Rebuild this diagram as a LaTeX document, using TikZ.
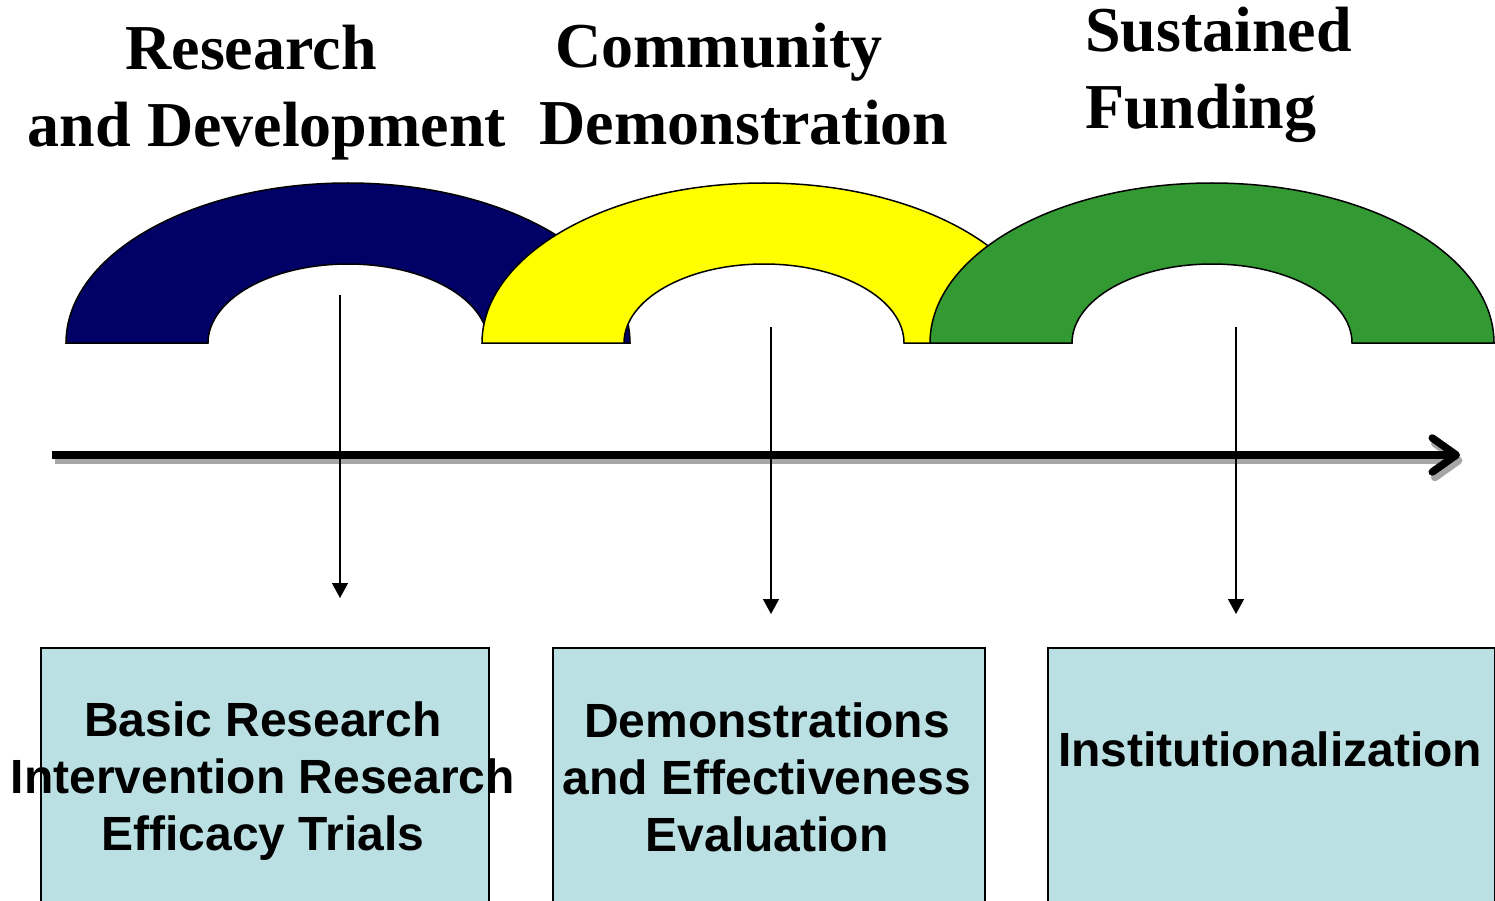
\documentclass[tikz,border=0pt]{standalone}
\usepackage{fontspec}
\setmainfont{Liberation Serif}
\newfontfamily\boxfont{Liberation Sans}
\usetikzlibrary{arrows.meta}
\definecolor{archnavy}{HTML}{000066}
\definecolor{archyellow}{HTML}{FFFF00}
\definecolor{archgreen}{HTML}{339933}
\definecolor{boxfill}{HTML}{BBE0E3}
\definecolor{shadowgrey}{HTML}{A6A6A6}
\tikzset{
  arch/.style={draw=black, line width=1.5pt},
  heading/.style={font=\fontsize{64}{77}\selectfont\bfseries, align=center, inner sep=0pt},
  stagebox/.style={draw=black, line width=1.8pt, fill=boxfill, anchor=north west, inner sep=0pt},
  boxtext/.style={font=\boxfont\fontsize{48}{57}\selectfont\bfseries, align=center, inner sep=0pt},
  droparrow/.style={line width=1.4pt, -{Triangle[length=15pt,width=16pt]}},
  timeline/.style={line width=7.5pt, -{Straight Barb[length=24pt,width=34pt,round]}}
}
\newcommand{\archshape}[2]{%
  \fill[#2] (#1-282,-343) arc[start angle=180,end angle=0,x radius=282,y radius=160]
    -- (#1+140,-343) arc[start angle=0,end angle=180,x radius=140,y radius=79] -- cycle;
  \draw[arch] (#1-282,-343) arc[start angle=180,end angle=0,x radius=282,y radius=160]
    -- (#1+140,-343) arc[start angle=0,end angle=180,x radius=140,y radius=79] -- cycle;
}
\begin{document}
\begin{tikzpicture}[x=1pt,y=1pt]
\useasboundingbox (0,0) rectangle (1495,-901);
\fill[white] (0,0) rectangle (1495,-901);

% headings
\node[heading] (h1) at (267,-93) {Research\hspace*{32pt}\\and Development};
\node[heading] (h2) at (744,-84) {Community\hspace*{50pt}\\Demonstration};
\node[heading, align=left, anchor=west] (h3) at (1085,-75) {Sustained\\Funding};

% arches
\archshape{348}{archnavy}
\archshape{764}{archyellow}
\archshape{1212}{archgreen}

% timeline with shadow
\coordinate (tlstart) at (52,-455);
\coordinate (tlend) at (1460,-455);
\draw[timeline, shadowgrey, transform canvas={shift={(2.5pt,-5.5pt)}}] (tlstart) -- (tlend);
\draw[timeline, black] (tlstart) -- (tlend);

% boxes
\node[stagebox, minimum width=448pt, minimum height=270pt] (b1) at (40,-647) {};
\node[stagebox, minimum width=432pt, minimum height=270pt] (b2) at (552,-647) {};
\node[stagebox, minimum width=447pt, minimum height=270pt] (b3) at (1047,-647) {};

\node[boxtext] (t1) at (263,-781) {Basic Research\\Intervention Research\\Efficacy Trials};
\node[boxtext] (t2) at (767,-777) {Demonstrations\\and Effectiveness\\Evaluation};
\node[boxtext] (t3) at (1270,-749) {Institutionalization};

% drop arrows
\coordinate (d1s) at (340,-295);
\coordinate (d1e) at (340,-598);
\coordinate (d2s) at (771,-327);
\coordinate (d2e) at (771,-614);
\coordinate (d3s) at (1236,-327);
\coordinate (d3e) at (1236,-614);
\draw[droparrow] (d1s) -- (d1e);
\draw[droparrow] (d2s) -- (d2e);
\draw[droparrow] (d3s) -- (d3e);
\end{tikzpicture}
\end{document}
